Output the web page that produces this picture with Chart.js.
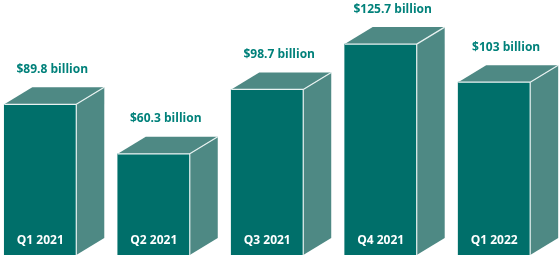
<!DOCTYPE html>
<html>
<head>
<meta charset="utf-8">
<script src="https://cdn.jsdelivr.net/npm/chart.js@4"></script>
<style>
  html, body { margin: 0; padding: 0; background: #fff; }
  #wrap { width: 560px; height: 257px; position: relative; }
</style>
</head>
<body>
<div id="wrap"><canvas id="chart"></canvas></div>
<script>
// Quarterly totals, in billions of dollars
const quarters = ['Q1 2021', 'Q2 2021', 'Q3 2021', 'Q4 2021', 'Q1 2022'];
const valuesBn = [89.8, 60.3, 98.7, 125.7, 103];
const valueLabels = ['$89.8 billion', '$60.3 billion', '$98.7 billion', '$125.7 billion', '$103 billion'];

const FRONT = '#006f6a';
const SIDE = '#4e8984';
const TEXT = '#00817a';
const DEPTH_X = 28, DEPTH_Y = 17;

// draws the side + top faces and the labels on top of the plain bars
const boxPlugin = {
  id: 'box3d',
  afterDatasetsDraw(chart) {
    const ctx = chart.ctx;
    const meta = chart.getDatasetMeta(0);
    const base = chart.scales.y.getPixelForValue(0);
    ctx.save();
    meta.data.forEach((bar, i) => {
      const half = bar.width / 2;
      const l = bar.x - half, r = bar.x + half, t = bar.y;

      ctx.fillStyle = SIDE;
      ctx.beginPath();
      ctx.moveTo(r, t);
      ctx.lineTo(r + DEPTH_X, t - DEPTH_Y);
      ctx.lineTo(r + DEPTH_X, base - DEPTH_Y);
      ctx.lineTo(r, base);
      ctx.closePath();
      ctx.fill();

      ctx.beginPath();
      ctx.moveTo(l, t);
      ctx.lineTo(l + DEPTH_X, t - DEPTH_Y);
      ctx.lineTo(r + DEPTH_X, t - DEPTH_Y);
      ctx.lineTo(r, t);
      ctx.closePath();
      ctx.fill();

      // light edges meeting at the front top-right corner
      ctx.strokeStyle = '#e8f2f1';
      ctx.lineWidth = 1.2;
      ctx.beginPath();
      ctx.moveTo(l, t);
      ctx.lineTo(r, t);
      ctx.lineTo(r, base);
      ctx.moveTo(r, t);
      ctx.lineTo(r + DEPTH_X, t - DEPTH_Y);
      ctx.stroke();

      ctx.textAlign = 'center';
      ctx.textBaseline = 'middle';
      ctx.font = '700 12px "Open Sans", sans-serif';
      ctx.fillStyle = TEXT;
      ctx.fillText(valueLabels[i], bar.x + DEPTH_X / 2 - 2, t - 35);

      ctx.fillStyle = '#ffffff';
      ctx.fillText(quarters[i], bar.x, base - 14);
    });
    ctx.restore();
  }
};

new Chart(document.getElementById('chart'), {
  type: 'bar',
  data: {
    datasets: [{
      data: valuesBn.map((v, i) => ({ x: i, y: v })),
      backgroundColor: FRONT,
      borderWidth: 0,
      barThickness: 72
    }]
  },
  options: {
    responsive: true,
    maintainAspectRatio: false,
    animation: false,
    layout: { padding: { left: 0, right: 0, top: 0, bottom: 2 } },
    plugins: { legend: { display: false }, tooltip: { enabled: false } },
    scales: {
      x: { type: 'linear', min: -0.355, max: 4.58, display: false, offset: false },
      y: { min: 0, max: 152, display: false }
    }
  },
  plugins: [boxPlugin]
});
</script>
</body>
</html>
